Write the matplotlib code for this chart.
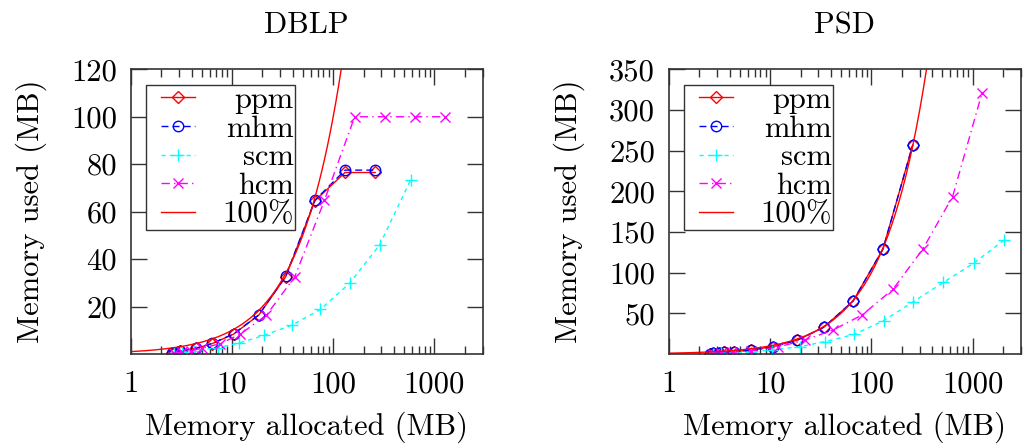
import matplotlib
matplotlib.use("Agg")
import matplotlib.pyplot as plt
import numpy as np
from matplotlib.legend_handler import HandlerLine2D
from matplotlib.ticker import FixedLocator, NullFormatter, LogLocator

plt.rcParams['font.family'] = ['cmr10', 'DejaVu Serif']
plt.rcParams['mathtext.fontset'] = 'cm'
plt.rcParams['axes.formatter.use_mathtext'] = True
plt.rcParams['axes.unicode_minus'] = False

# ---------------- DATA ----------------
titles = ["DBLP", "PSD"]
xticks = [1, 10, 100, 1000]
xtick_labels = ["1", "10", "100", "1000"]
yticks_dblp = [20, 40, 60, 80, 100, 120]
yticks_psd = [50, 100, 150, 200, 250, 300, 350]
ymax_dblp = 120
ymax_psd = 350

# DBLP
dblp_ppm_x = [2.55, 2.7, 3.1, 4.4, 6.4, 10.4, 18.4, 34, 66, 131, 260]
dblp_ppm_y = [0.3, 0.6, 1.2, 2.4, 4.4, 8.4, 16.4, 32.6, 64.6, 76.5, 76.5]
dblp_mhm_x = [2.55, 2.7, 3.1, 4.4, 6.4, 10.4, 18.4, 34, 66, 131, 260]
dblp_mhm_y = [0.3, 0.6, 1.2, 2.4, 4.5, 8.5, 16.5, 32.8, 64.8, 77.5, 77.5]
dblp_scm_x = [2.7, 3.2, 4.2, 7.3, 11.7, 20.5, 39.3, 74.8, 145, 287, 581]
dblp_scm_y = [0.3, 0.7, 1.3, 2.7, 4.6, 7.8, 12.2, 18.8, 29.8, 45.9, 73.3]
dblp_hcm_x = [2.7, 3.2, 3.9, 5.0, 7.6, 12, 21.9, 41.7, 82, 163, 322, 637, 1258]
dblp_hcm_y = [0.3, 0.7, 1.3, 2.4, 4.3, 8.3, 16.4, 32.5, 64.8, 100, 100, 100, 100]

# PSD
psd_ppm_x = [2.55, 2.75, 3.1, 3.5, 4.4, 6.5, 10.6, 18.5, 34, 65.8, 130, 256]
psd_ppm_y = [0.5, 1, 1.5, 2, 3, 5, 9, 17, 33, 65, 129, 257]
psd_mhm_x = [2.55, 2.75, 3.1, 3.5, 4.4, 6.5, 10.6, 18.5, 34, 65.8, 130, 256]
psd_mhm_y = [0.5, 1, 1.5, 2, 3, 5, 9, 17, 33, 65, 129, 257]
psd_scm_x = [2.7, 3.3, 4.5, 6.5, 10.5, 19.6, 35, 68, 132, 260, 513, 1021, 2042]
psd_scm_y = [0.5, 1, 1.5, 2.5, 5, 9, 15.2, 24.2, 41, 64.3, 88, 111.5, 140]
psd_hcm_x = [2.7, 3.3, 4.2, 6.5, 12, 22, 41.8, 81, 163, 321, 634, 1236]
psd_hcm_y = [0.5, 1, 2, 4, 8.6, 17.2, 29.5, 48, 79.5, 128.7, 193.4, 320.5]

labels = ["ppm", "mhm", "scm", "hcm", "100%"]


class GapHandler(HandlerLine2D):
    """gnuplot-like legend sample: line drawn after a small left gap, one marker centred."""
    def get_xdata(self, legend, xdescent, ydescent, width, height, fontsize):
        gap = 0.45 * fontsize
        xdata = [-xdescent + gap, -xdescent + width]
        xm = [-xdescent + gap + 0.5 * (width - gap)]
        return xdata, xm


FS = 22
fig = plt.figure(figsize=(10.24, 4.45), dpi=100)
axes_pos = [[0.1277, 0.2045, 0.3437, 0.6398], [0.6533, 0.2045, 0.3437, 0.6398]]

datasets = [
    (dblp_ppm_x, dblp_ppm_y, dblp_mhm_x, dblp_mhm_y, dblp_scm_x, dblp_scm_y,
     dblp_hcm_x, dblp_hcm_y, ymax_dblp, yticks_dblp),
    (psd_ppm_x, psd_ppm_y, psd_mhm_x, psd_mhm_y, psd_scm_x, psd_scm_y,
     psd_hcm_x, psd_hcm_y, ymax_psd, yticks_psd),
]

for i, (px, py, mx, my, sx, sy, hx, hy, ymax, yt) in enumerate(datasets):
    ax = fig.add_axes(axes_pos[i])
    ax.set_xscale('log')
    lw = 1.0
    l1, = ax.plot(px, py, color='#ff0000', lw=lw, marker='D', ms=6,
                  mfc='none', mec='#ff0000', mew=1.0, label=labels[0])
    l2, = ax.plot(mx, my, color='#0000ff', lw=lw, dashes=(5, 3), marker='o', ms=7.5,
                  mfc='none', mec='#0000ff', mew=1.0, label=labels[1])
    l3, = ax.plot(sx, sy, color='#00ffff', lw=lw, dashes=(3, 3), marker='+', ms=9,
                  mew=1.0, label=labels[2])
    l4, = ax.plot(hx, hy, color='#ff00ff', lw=lw, dashes=(6, 3, 1, 3), marker='x', ms=7,
                  mew=1.0, label=labels[3])
    xx = np.logspace(0, np.log10(ymax * 1.02), 300)
    l5, = ax.plot(xx, xx, color='#ff0000', lw=1.0, label=labels[4])

    ax.set_xlim(1, 3000)
    ax.set_ylim(0, ymax)
    ax.set_yticks(yt)
    ax.set_yticklabels([str(v) for v in yt])
    ax.xaxis.set_major_locator(FixedLocator(xticks))
    ax.set_xticklabels(xtick_labels)
    ax.xaxis.set_minor_locator(LogLocator(base=10, subs=np.arange(2, 10), numticks=20))
    ax.xaxis.set_minor_formatter(NullFormatter())
    ax.tick_params(axis='both', which='both', direction='in', top=True, right=True,
                   labelsize=FS, width=1.0, color='#333333')
    ax.tick_params(axis='both', which='major', length=11.5)
    ax.tick_params(axis='x', which='major', pad=12)
    ax.tick_params(axis='y', which='major', pad=10)
    ax.tick_params(axis='x', which='minor', length=6)
    for s in ax.spines.values():
        s.set_linewidth(1.2)
        s.set_color('#333333')

    ax.set_title(titles[i], fontsize=FS, pad=26)
    ax.set_xlabel("Memory allocated (MB)", fontsize=FS, labelpad=10)
    ax.set_ylabel("Memory used (MB)", fontsize=FS, labelpad=17)

    leg = ax.legend(handles=[l1, l2, l3, l4, l5], loc='upper left',
                    bbox_to_anchor=(0.0426, 0.945), fontsize=FS, frameon=True,
                    fancybox=False, shadow=False, framealpha=1, edgecolor='#333333',
                    borderpad=0.05, labelspacing=0.04, handlelength=1.55,
                    handletextpad=0.9, borderaxespad=0.0, numpoints=1,
                    handler_map={l: GapHandler() for l in [l1, l2, l3, l4, l5]})
    leg.get_frame().set_linewidth(1.0)

fig.canvas.draw()
for ax in fig.axes:
    leg = ax.get_legend()
    texts = leg.get_texts()
    widths = [t.get_window_extent().width for t in texts]
    shift = max(widths)
    for t, w in zip(texts, widths):
        t.set_ha('left')
        t.set_position((shift - w, 0))

fig.savefig("out.png", dpi=100)
